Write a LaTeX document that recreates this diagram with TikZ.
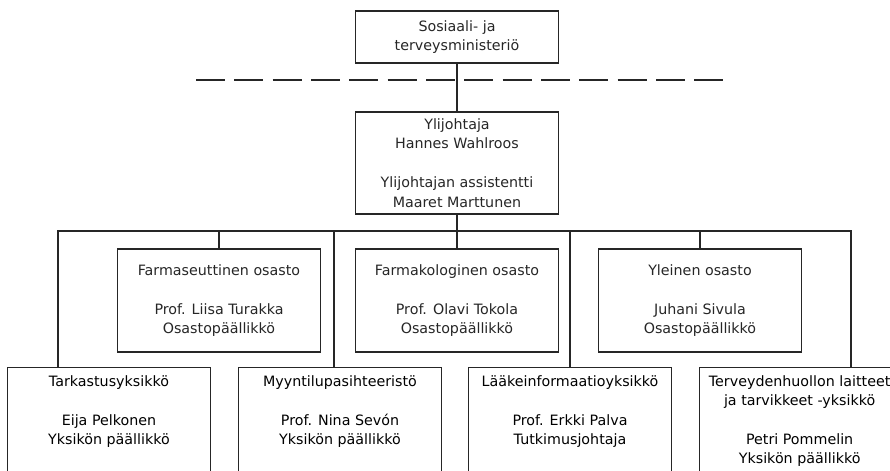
\documentclass[tikz,border=0pt]{standalone}
\usepackage{fontspec}
\setmainfont{DejaVu Sans}
\usetikzlibrary{positioning}
\newcommand{\orgfont}{\fontsize{10.7}{14.6}\selectfont}
\tikzset{
  orgline/.style={line width=0.9pt,black!85},
  orgbox/.style={draw,orgline,minimum width=152.5pt,inner sep=0pt,align=center,font=\orgfont},
  unitbox/.style={orgbox,anchor=north,minimum height=105pt},
  unittext/.style={inner sep=0pt,align=center,font=\orgfont},
  sepline/.style={orgline,dash pattern=on 21.75pt off 7pt},
}
\begin{document}
\begin{tikzpicture}[x=0.75pt,y=-0.75pt]
\clip (0,0) rectangle (890,471);
% ministerio and head
\node[orgbox,minimum height=39pt] (sos) at (457,37) {Sosiaali- ja\\terveysministeriö};
\coordinate (sepL) at (196,80);
\coordinate (sepR) at (723,80);
\draw[sepline] (sepL) -- (sepR);
\node[orgbox,minimum height=76.5pt] (ylij) at (457,163) {Ylijohtaja\\Hannes Wahlroos\\[14.6pt]Ylijohtajan assistentti\\Maaret Marttunen};
% osastot
\node[orgbox,minimum height=77.25pt] (farma) at (219,300.5) {Farmaseuttinen osasto\\[14.6pt]Prof. Liisa Turakka\\Osastopäällikkö};
\node[orgbox,minimum height=77.25pt] (farmako) at (457,300.5) {Farmakologinen osasto\\[14.6pt]Prof. Olavi Tokola\\Osastopäällikkö};
\node[orgbox,minimum height=77.25pt] (ylei) at (700,300.5) {Yleinen osasto\\[14.6pt]Juhani Sivula\\Osastopäällikkö};
% yksikot
\node[unitbox] (tark) at (109,367) {};
\node[unitbox] (myynti) at (340,367) {};
\node[unitbox] (laake) at (570,367) {};
\node[unitbox] (terv) at (801,367) {};
\node[unittext,below=6pt of tark.north] (tarkt) {Tarkastusyksikkö\\[14.6pt]Eija Pelkonen\\Yksikön päällikkö};
\node[unittext,below=6pt of myynti.north] (myyntit) {Myyntilupasihteeristö\\[14.6pt]Prof. Nina Sevón\\Yksikön päällikkö};
\node[unittext,below=6pt of laake.north] (laaket) {Lääkeinformaatioyksikkö\\[14.6pt]Prof. Erkki Palva\\Tutkimusjohtaja};
\node[unittext,below=6pt of terv.north,xshift=-1pt] (tervt) {Terveydenhuollon laitteet\\ja tarvikkeet -yksikkö\\[14.6pt]Petri Pommelin\\Yksikön päällikkö};
% lines
\coordinate (busL) at (58,231);
\coordinate (busR) at (851,231);
\coordinate (bus3) at (334,231);
\coordinate (bus5) at (570,231);
\draw[orgline] (sos) -- (ylij);
\draw[orgline] (ylij) -- (farmako);
\draw[orgline] (busL |- tark.north) -- (busL) -- (busR) -- (busR |- terv.north);
\draw[orgline] (farma) -- (farma |- busL);
\draw[orgline] (ylei) -- (ylei |- busL);
\draw[orgline] (bus3) -- (bus3 |- myynti.north);
\draw[orgline] (bus5) -- (bus5 |- laake.north);
\end{tikzpicture}
\end{document}
